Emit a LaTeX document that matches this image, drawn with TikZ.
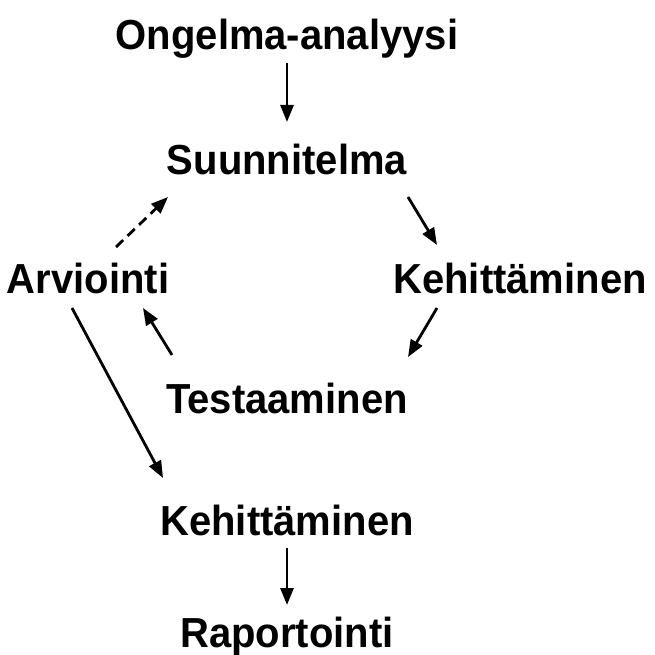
\documentclass[tikz,border=0pt]{standalone}
\usepackage{fontspec}
\setmainfont{Liberation Sans}
\usetikzlibrary{arrows.meta,calc}
\begin{document}
\begin{tikzpicture}[x=1pt,y=-1pt,
  lbl/.style={font=\fontsize{40}{48}\selectfont\bfseries, anchor=base, inner sep=0pt, yscale=1.05},
  arr/.style={line width=2.8pt, -{Triangle[length=17pt,width=13pt]}}]
\useasboundingbox (0,0) rectangle (654,655);
\node[lbl] (ong) at (287,50) {Ongelma-analyysi};
\node[lbl] (suun) at (287,175) {Suunnitelma};
\node[lbl] (arv) at (88,293) {Arviointi};
\node[lbl] (keh) at (520,293) {Kehittäminen};
\node[lbl] (test) at (287,413) {Testaaminen};
\node[lbl] (keh2) at (287,535) {Kehittäminen};
\node[lbl] (rap) at (287,647) {Raportointi};
\draw[arr] ($(ong.base)+(0,13)$) -- ($(suun.base)+(0,-53)$);
\draw[arr,dash pattern=on 10pt off 6pt] ($(arv.base)+(28,-46)$) -- ($(suun.base)+(-119,22)$);
\draw[arr] ($(suun.base)+(121,22)$) -- ($(keh.base)+(-83,-48)$);
\draw[arr] ($(keh.base)+(-83,15)$) -- ($(test.base)+(121,-56)$);
\draw[arr] ($(test.base)+(-115,-58)$) -- ($(arv.base)+(55,15)$);
\draw[arr] ($(arv.base)+(-16,15)$) -- ($(keh2.base)+(-124,-57)$);
\draw[arr] ($(keh2.base)+(0,13)$) -- ($(rap.base)+(0,-42)$);
\end{tikzpicture}
\end{document}
